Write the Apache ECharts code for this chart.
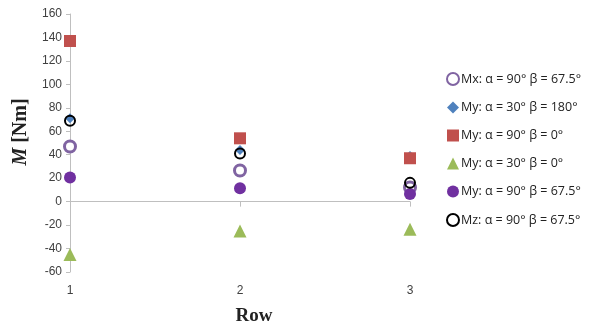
<!DOCTYPE html>
<html>
<head>
<meta charset="utf-8">
<script src="https://cdn.jsdelivr.net/npm/echarts@6/dist/echarts.min.js"></script>
<style>
  html, body { margin: 0; padding: 0; background: #fff; }
  #chart { width: 593px; height: 326px; }
</style>
</head>
<body>
<div id="chart"></div>
<script>
// Rows along the horizontal axis
const rows = [1, 2, 3];
// Y-axis tick values
const yTicks = [-60, -40, -20, 0, 20, 40, 60, 80, 100, 120, 140, 160];

// Moment components per row [Nm]
const mxA90B675 = [47, 26.5, 12];
const myA30B180 = [71, 44, 39];
const myA90B0 = [137, 54, 37];
const myA30B0 = [-45, -25, -23.5];
const myA90B675 = [20.5, 11.5, 6.5];
const mzA90B675 = [69, 41, 16];

const seriesNames = [
  'Mx: α = 90° β = 67.5°',
  'My: α = 30° β = 180°',
  'My: α = 90° β = 0°',
  'My: α = 30° β = 0°',
  'My: α = 90° β = 67.5°',
  'Mz: α = 90° β = 67.5°'
];

const pairs = vals => rows.map((r, i) => [r, vals[i]]);

const chart = echarts.init(document.getElementById('chart'), null, { renderer: 'canvas' });

const axisGray = '#BFBFBF';
const labelFont = { fontFamily: 'Liberation Sans, Arial, sans-serif', fontSize: 12, color: '#404040' };
const titleFont = 'Liberation Serif, Times New Roman, serif';

chart.setOption({
  animation: false,
  backgroundColor: '#fff',
  grid: { left: 70, right: 183, top: 14, bottom: 54, containLabel: false, outerBoundsMode: 'none' },
  legend: {
    orient: 'vertical',
    left: 441,
    top: 67,
    itemGap: 15,
    itemWidth: 12,
    itemHeight: 12,
    textStyle: { fontFamily: 'Open Sans, Liberation Sans, sans-serif', fontSize: 12.5, color: '#222', padding: [0, 0, 0, -3] },
    data: seriesNames
  },
  xAxis: [
    {
      type: 'value', min: 1, max: 3, interval: 1,
      axisLine: { onZero: true, lineStyle: { color: axisGray, width: 1 } },
      axisTick: { show: true, length: 5, lineStyle: { color: axisGray } },
      axisLabel: { show: false },
      splitLine: { show: false }
    },
    {
      type: 'value', min: 1, max: 3, interval: 1, position: 'bottom',
      axisLine: { show: false, onZero: false },
      axisTick: { show: false },
      axisLabel: Object.assign({ margin: 13 }, labelFont),
      splitLine: { show: false },
      name: 'Row',
      nameLocation: 'middle',
      nameGap: 35,
      nameTextStyle: { fontFamily: titleFont, fontWeight: 'bold', fontSize: 19, color: '#222', padding: [0, 0, 0, 28] }
    }
  ],
  yAxis: {
    type: 'value', min: yTicks[0], max: yTicks[yTicks.length - 1], interval: 20,
    axisLine: { show: true, onZero: false, lineStyle: { color: axisGray } },
    axisTick: { show: true, length: 4, lineStyle: { color: axisGray } },
    axisLabel: Object.assign({ margin: 8 }, labelFont),
    splitLine: { show: false },
    name: '{i|M} [Nm]',
    nameLocation: 'middle',
    nameRotate: 90,
    nameGap: 34,
    nameTextStyle: {
      fontFamily: titleFont, fontWeight: 'bold', fontSize: 20, color: '#222',
      padding: [0, 0, 0, 22],
      rich: {
        i: { fontFamily: titleFont, fontWeight: 'bold', fontStyle: 'italic', fontSize: 20, color: '#222' }
      }
    }
  },
  series: [
    {
      name: seriesNames[0], type: 'scatter', data: pairs(mxA90B675),
      symbol: 'circle', symbolSize: 11,
      itemStyle: { color: '#fff', borderColor: '#8064A2', borderWidth: 3, opacity: 1 }
    },
    {
      name: seriesNames[1], type: 'scatter', data: pairs(myA30B180),
      symbol: 'diamond', symbolSize: 10,
      itemStyle: { color: '#4F81BD', opacity: 1 }
    },
    {
      name: seriesNames[2], type: 'scatter', data: pairs(myA90B0),
      symbol: 'rect', symbolSize: 12,
      itemStyle: { color: '#C0504D', opacity: 1 }
    },
    {
      name: seriesNames[3], type: 'scatter', data: pairs(myA30B0),
      symbol: 'triangle', symbolSize: 13,
      itemStyle: { color: '#9BBB59', opacity: 1 }
    },
    {
      name: seriesNames[4], type: 'scatter', data: pairs(myA90B675),
      symbol: 'circle', symbolSize: 12,
      itemStyle: { color: '#7030A0', opacity: 1 }
    },
    {
      name: seriesNames[5], type: 'scatter', data: pairs(mzA90B675),
      symbol: 'circle', symbolSize: 10,
      itemStyle: { color: 'rgba(255,255,255,0)', borderColor: '#000', borderWidth: 2, opacity: 1 }
    }
  ]
});
</script>
</body>
</html>
